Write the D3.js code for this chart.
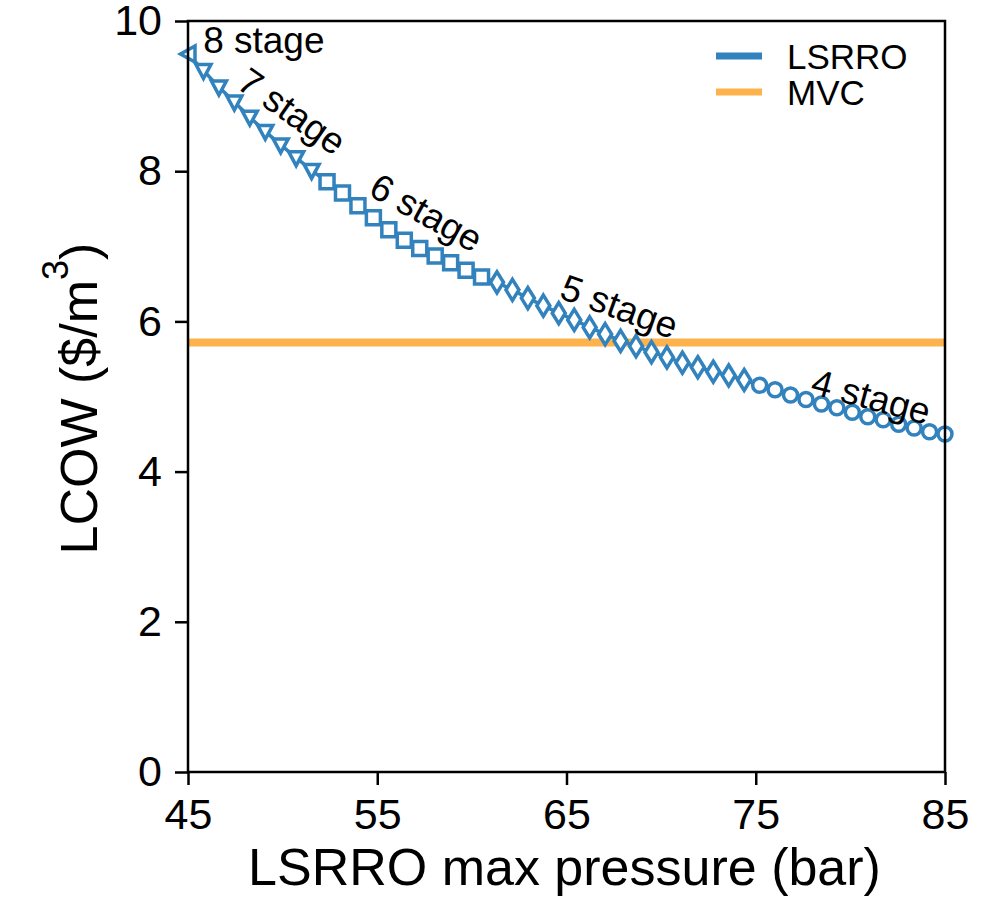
<!DOCTYPE html>
<html>
<head>
<meta charset="utf-8">
<script src="https://cdn.jsdelivr.net/npm/d3@7"></script>
<style>
  html, body { margin: 0; padding: 0; background: #fff; }
  svg { display: block; font-family: "Liberation Sans", Arial, sans-serif; }
</style>
</head>
<body>
<svg id="chart" width="986" height="899"></svg>
<script>
// LSRRO max pressure sweep, 50 evenly spaced points from 45 to 85 bar
const pressureMin = 45, pressureMax = 85, nPoints = 50;
const pressure = d3.range(nPoints).map(i => pressureMin + i * (pressureMax - pressureMin) / (nPoints - 1));

// LCOW ($/m3) of the optimal LSRRO design at each pressure
const lcow = [
  9.56,
  9.34, 9.12, 8.92, 8.72, 8.53, 8.35, 8.18, 8.01,
  7.86, 7.71, 7.54, 7.38, 7.22, 7.08, 6.97, 6.87, 6.78, 6.68, 6.59,
  6.52, 6.42, 6.31, 6.21, 6.11, 6.02, 5.92, 5.83, 5.74, 5.67, 5.59, 5.52, 5.45, 5.39, 5.33, 5.28, 5.22,
  5.15, 5.09, 5.02, 4.96, 4.90, 4.85, 4.79, 4.73, 4.69, 4.63, 4.58, 4.53, 4.50
];

// number of LSRRO stages chosen at each point
const stages = [
  8,
  7, 7, 7, 7, 7, 7, 7, 7,
  6, 6, 6, 6, 6, 6, 6, 6, 6, 6, 6,
  5, 5, 5, 5, 5, 5, 5, 5, 5, 5, 5, 5, 5, 5, 5, 5, 5,
  4, 4, 4, 4, 4, 4, 4, 4, 4, 4, 4, 4, 4
];

// MVC reference cost
const mvcLcow = 5.72;

// stage annotations: label, anchor pressure, anchor LCOW, rotation (deg)
const stageLabels = ["8 stage", "7 stage", "6 stage", "5 stage", "4 stage"];
const stageLabelX = [45.8, 50.5, 57.6, 67.8, 81.1];
const stageLabelY = [9.57, 8.80, 7.45, 6.2, 5.0];
const stageLabelAngle = [0, 35, 29, 20, 15];

const xTicks = [45, 55, 65, 75, 85];
const yTicks = [0, 2, 4, 6, 8, 10];

const blue = "#3182bd", orange = "#feb24c";

const svg = d3.select("#chart");
const margin = { left: 188, right: 41, top: 21, bottom: 127 };
const W = 986, H = 899;

const x = d3.scaleLinear().domain([45, 85]).range([margin.left, W - margin.right]);
const y = d3.scaleLinear().domain([0, 10]).range([H - margin.bottom, margin.top]);

// axes
const xAxis = svg.append("g")
  .attr("transform", `translate(0,${y(0)})`)
  .call(d3.axisBottom(x).tickValues(xTicks).tickSize(13).tickPadding(13).tickFormat(d3.format("d")));
const yAxis = svg.append("g")
  .attr("transform", `translate(${x(45)},0)`)
  .call(d3.axisLeft(y).tickValues(yTicks).tickSize(13).tickPadding(13).tickFormat(d3.format("d")));

[xAxis, yAxis].forEach(g => {
  g.select(".domain").remove();
  g.selectAll(".tick line").attr("stroke", "#000").attr("stroke-width", 2.5);
  g.selectAll(".tick text").attr("fill", "#000").style("font-size", "43px").style("font-family", "'Liberation Sans', Arial, sans-serif");
});

// MVC horizontal line
svg.append("line")
  .attr("x1", x(45)).attr("x2", x(85))
  .attr("y1", y(mvcLcow)).attr("y2", y(mvcLcow))
  .attr("stroke", orange).attr("stroke-width", 8);

// LSRRO curve
const pts = pressure.map((p, i) => ({ p, v: lcow[i], s: stages[i] }));
svg.append("path")
  .datum(pts)
  .attr("fill", "none")
  .attr("stroke", blue)
  .attr("stroke-width", 3.5)
  .attr("d", d3.line().x(d => x(d.p)).y(d => y(d.v)));

// markers by stage count
function markerPath(s) {
  if (s === 8) return "M-7.5,0 L7,-8 L7,8 Z";           // left-pointing triangle
  if (s === 7) return "M-7.5,-6 L7.5,-6 L0,8 Z";        // down triangle
  if (s === 6) return "M-7,-7 L7,-7 L7,7 L-7,7 Z";      // square
  if (s === 5) return "M0,-10.5 L6.5,0 L0,10.5 L-6.5,0 Z"; // thin diamond
  return null;
}
const mk = svg.append("g");
pts.forEach(d => {
  if (d.s === 4) {
    mk.append("circle").attr("cx", x(d.p)).attr("cy", y(d.v)).attr("r", 7)
      .attr("fill", "#fff").attr("stroke", blue).attr("stroke-width", 3.5);
  } else {
    mk.append("path").attr("d", markerPath(d.s))
      .attr("transform", `translate(${x(d.p)},${y(d.v)})`)
      .attr("fill", "#fff").attr("stroke", blue).attr("stroke-width", 3.5)
      .attr("stroke-linejoin", "miter");
  }
});

// frame
svg.append("rect")
  .attr("x", x(45)).attr("y", y(10))
  .attr("width", x(85) - x(45)).attr("height", y(0) - y(10))
  .attr("fill", "none").attr("stroke", "#000").attr("stroke-width", 2.5);

// stage annotations
stageLabels.forEach((t, i) => {
  const tx = x(stageLabelX[i]), ty = y(stageLabelY[i]);
  const el = svg.append("text")
    .attr("transform", `translate(${tx},${ty}) rotate(${stageLabelAngle[i]})`)
    .style("font-size", "37px").attr("fill", "#000")
    .text(t);
  if (i === 0) {
    el.attr("text-anchor", "start");
  } else {
    el.attr("text-anchor", "middle").attr("dy", "0.35em");
  }
});

// legend
const legendItems = ["LSRRO", "MVC"];
const legendColors = [blue, orange];
legendItems.forEach((name, i) => {
  const ly = 56 + i * 36;
  svg.append("line").attr("x1", 716).attr("x2", 762).attr("y1", ly).attr("y2", ly)
    .attr("stroke", legendColors[i]).attr("stroke-width", 7);
  svg.append("text").attr("x", 787).attr("y", ly).attr("dy", "0.36em")
    .style("font-size", "35px").attr("fill", "#000").text(name);
});

// axis titles
svg.append("text")
  .attr("x", (x(45) + x(85)) / 2 - 2).attr("y", 885)
  .attr("text-anchor", "middle").style("font-size", "52px").attr("fill", "#000")
  .text("LSRRO max pressure (bar)");

const yt = svg.append("text")
  .attr("transform", `translate(97,${(y(0) + y(10)) / 2 + 2}) rotate(-90)`)
  .attr("text-anchor", "middle").style("font-size", "52px").attr("fill", "#000");
yt.append("tspan").text("LCOW ($/m");
yt.append("tspan").attr("dy", "-0.8em").style("font-size", "36px").text("3");
yt.append("tspan").attr("dy", "0.55em").text(")");
</script>
</body>
</html>
